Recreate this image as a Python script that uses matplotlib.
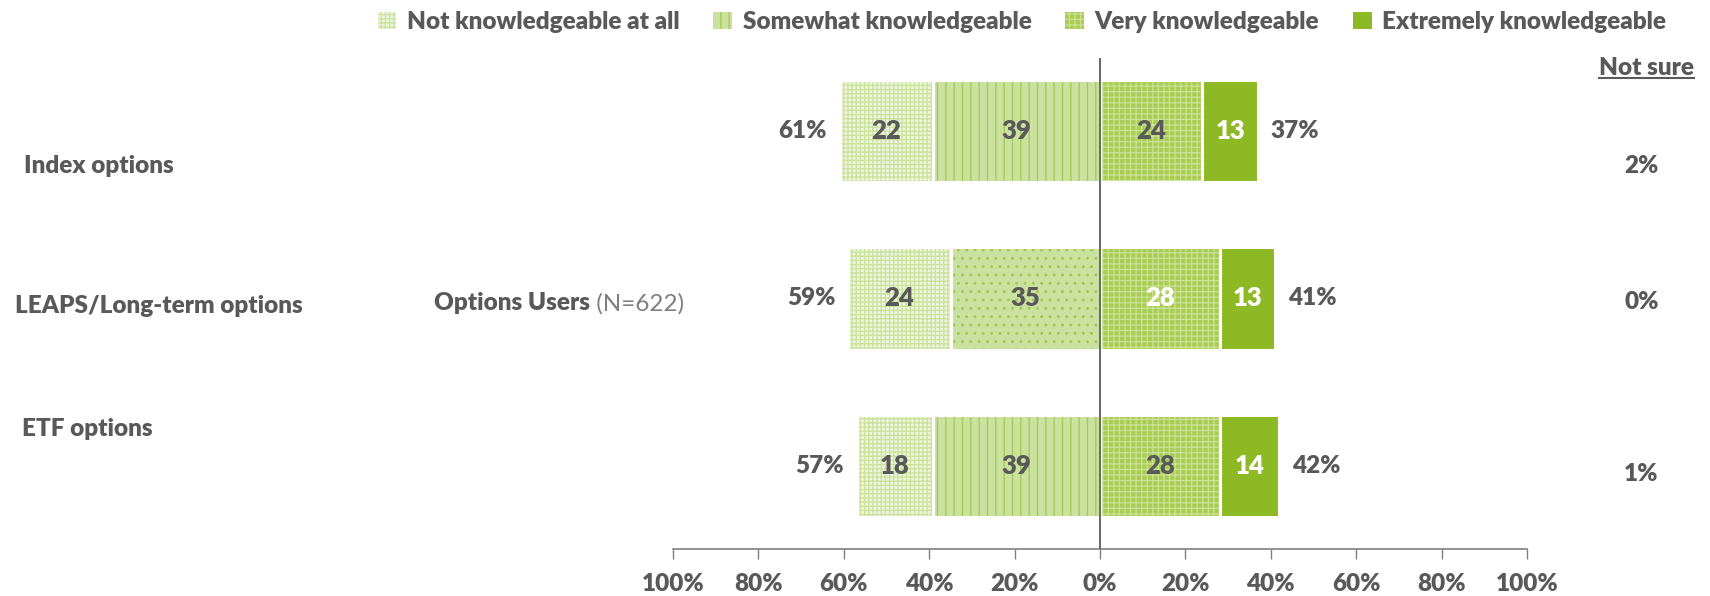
import matplotlib
matplotlib.use('Agg')
import matplotlib.pyplot as plt
from matplotlib.patches import Patch
from matplotlib.transforms import blended_transform_factory
from matplotlib.lines import Line2D

# ---------------- data ----------------
categories = ['Index options', 'LEAPS/Long-term options', 'ETF options']
not_knowledgeable = [22, 24, 18]
somewhat_knowledgeable = [39, 35, 39]
very_knowledgeable = [24, 28, 28]
extremely_knowledgeable = [13, 13, 14]
not_sure = [2, 0, 1]
series_names = ['Not knowledgeable at all', 'Somewhat knowledgeable',
                'Very knowledgeable', 'Extremely knowledgeable']
xtick_values = [-100, -80, -60, -40, -20, 0, 20, 40, 60, 80, 100]
xtick_labels = ['100%', '80%', '60%', '40%', '20%', '0%', '20%', '40%', '60%', '80%', '100%']
group_label = 'Options Users'
group_n = '(N=622)'
not_sure_title = 'Not sure'

# ---------------- style ----------------
plt.rcParams['font.family'] = ['Lato', 'DejaVu Sans']
plt.rcParams['font.weight'] = 'heavy'
plt.rcParams['hatch.linewidth'] = 0.9
TXT = '#595959'
FS = 17.5

face = ['#edf5dc', '#cbe1a0', '#a9cc52', '#8db924']
hatchc = ['#cbe19c', '#a3c84e', '#cbe296', '#8db924']
hatch_somewhat = ['||', '..', '||']
hatch_other = ['++++', None, '+++', None]
very_label_col = [TXT, 'white', TXT]

fig = plt.figure(figsize=(17.10, 5.96), dpi=100)
ax = fig.add_axes([673/1710, 47/596, 854/1710, 491/596])

y = list(range(len(categories)))
bh = 0.61

def draw(values, left, idx, hatches):
    bars = ax.barh(y, values, left=left, height=bh, color=face[idx],
                   edgecolor=hatchc[idx], linewidth=0, zorder=2)
    for p, h in zip(bars.patches, hatches):
        if h:
            p.set_hatch(h)
    ax.barh(y, values, left=left, height=bh, facecolor='none',
            edgecolor='white', linewidth=2.2, zorder=3)
    return bars

neg_som = [-v for v in somewhat_knowledgeable]
neg_not = [-v for v in not_knowledgeable]
draw(neg_som, 0, 1, hatch_somewhat)
draw(neg_not, neg_som, 0, [hatch_other[0]] * 3)
draw(very_knowledgeable, 0, 2, [hatch_other[2]] * 3)
draw(extremely_knowledgeable, very_knowledgeable, 3, [None] * 3)

# segment labels
for i in y:
    ax.text(-somewhat_knowledgeable[i] / 2, i, str(somewhat_knowledgeable[i]),
            ha='center', va='center', color=TXT, fontsize=FS + 1, zorder=5)
    ax.text(-somewhat_knowledgeable[i] - not_knowledgeable[i] / 2, i, str(not_knowledgeable[i]),
            ha='center', va='center', color=TXT, fontsize=FS + 1, zorder=5)
    ax.text(very_knowledgeable[i] / 2, i, str(very_knowledgeable[i]),
            ha='center', va='center', color=very_label_col[i], fontsize=FS + 1, zorder=5)
    ax.text(very_knowledgeable[i] + extremely_knowledgeable[i] / 2, i, str(extremely_knowledgeable[i]),
            ha='center', va='center', color='white', fontsize=FS + 1, zorder=5)
    left_total = not_knowledgeable[i] + somewhat_knowledgeable[i]
    right_total = very_knowledgeable[i] + extremely_knowledgeable[i]
    ax.text(-left_total - 3, i, f'{left_total}%', ha='right', va='center',
            color=TXT, fontsize=FS)
    ax.text(right_total + 3, i, f'{right_total}%', ha='left', va='center',
            color=TXT, fontsize=FS)

# not sure column
ns_off = [0.21, 0.02, 0.05]
for i in y:
    ax.text(126.8, i + ns_off[i], f'{not_sure[i]}%', ha='center', va='center',
            color=TXT, fontsize=FS, clip_on=False)
t_ns = fig.text(1646/1710, 1 - 68/596, not_sure_title, ha='center', va='center',
                color=TXT, fontsize=FS)

# category labels
tr = blended_transform_factory(fig.transFigure, ax.transData)
cat_off = [0.21, 0.045, -0.22]
cat_x = [24/1710, 15/1710, 22/1710]
for i, c in enumerate(categories):
    ax.text(cat_x[i], i + cat_off[i], c, transform=tr, ha='left', va='center',
            color=TXT, fontsize=FS, clip_on=False)

t1 = ax.text(434/1710, 1.03, group_label, transform=tr, ha='left', va='center',
             color=TXT, fontsize=FS)
ax.annotate(' ' + group_n, xy=(1, 0), xycoords=t1, ha='left', va='bottom',
            color='#7f7f7f', fontsize=FS, fontweight='normal')

# axes
ax.set_xlim(-100, 100)
ax.set_ylim(2.496, -0.436)
ax.axvline(0, color=TXT, lw=1.3, zorder=4)
for s in ['top', 'right', 'left']:
    ax.spines[s].set_visible(False)
ax.spines['bottom'].set_color('#808080')
ax.spines['bottom'].set_linewidth(1.2)
ax.set_yticks([])
ax.set_xticks(xtick_values)
ax.set_xticklabels(xtick_labels)
ax.tick_params(axis='x', colors='#808080', length=7, width=1, pad=10,
               labelcolor=TXT, labelsize=FS)

# legend
handles = []
for k in range(4):
    h = hatch_other[k] if k != 1 else '||'
    handles.append(Patch(facecolor=face[k], edgecolor=hatchc[k], linewidth=0,
                         hatch=h, label=series_names[k]))
fig.legend(handles=handles, loc='center', bbox_to_anchor=(1022/1710, 1 - 22/596),
           ncol=4, frameon=False, fontsize=FS, labelcolor=TXT,
           handlelength=0.75, handleheight=0.75, handletextpad=0.45,
           columnspacing=1.4, borderpad=0)

# underline "Not sure"
fig.canvas.draw()
bb = t_ns.get_window_extent()
W, H = fig.canvas.get_width_height()
fig.add_artist(Line2D([bb.x0 / W, bb.x1 / W], [(bb.y0 + 1) / H, (bb.y0 + 1) / H],
                      transform=fig.transFigure, color=TXT, lw=1.5))

fig.savefig('out.png', dpi=100)
